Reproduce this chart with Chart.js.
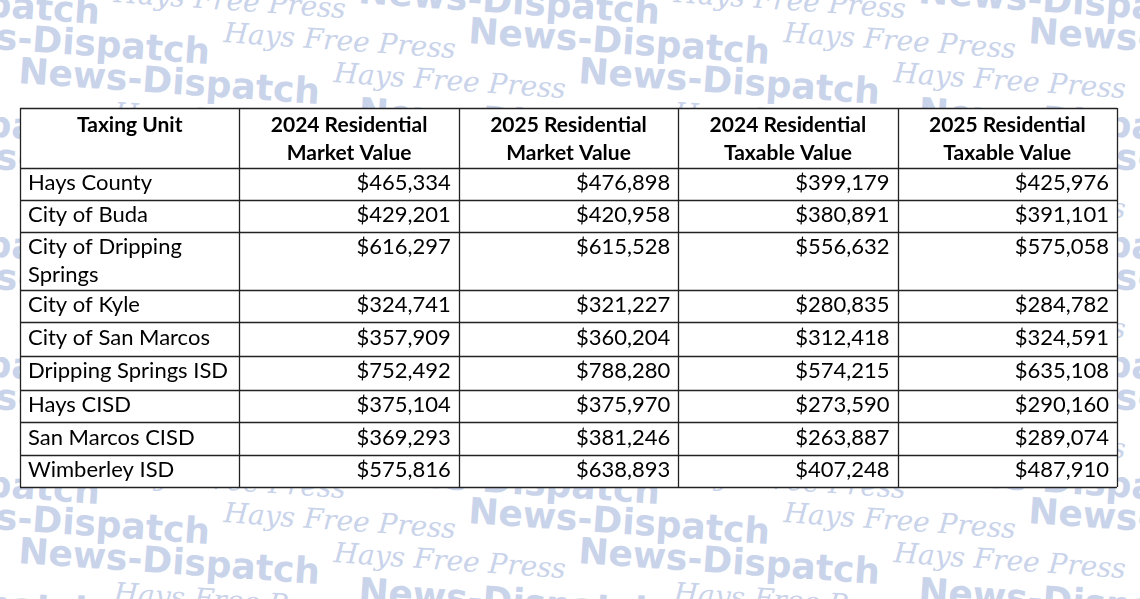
<!DOCTYPE html>
<html><head><meta charset="utf-8">
<script src="https://cdn.jsdelivr.net/npm/chart.js@4"></script>
<style>
html,body{margin:0;padding:0;width:1140px;height:599px;overflow:hidden;background:#fff;}
#wm{position:absolute;left:0;top:0;width:1140px;height:599px;overflow:hidden;color:#c9d3ea;white-space:nowrap;}
#wm div{position:absolute;transform:rotate(4deg);transform-origin:0 0;}
.nd{font-family:"DejaVu Sans";font-weight:bold;font-size:36px;}
.hf{font-family:"DejaVu Serif";font-style:italic;font-size:28px;}
canvas{position:absolute;left:0;top:0;}
</style></head><body>
<div id="wm"></div>
<canvas id="c" width="1140" height="599"></canvas>
<script>
const headers=[["Taxing Unit",""],["2024 Residential","Market Value"],["2025 Residential","Market Value"],["2024 Residential","Taxable Value"],["2025 Residential","Taxable Value"]];
const units=[["Hays County"],["City of Buda"],["City of Dripping","Springs"],["City of Kyle"],["City of San Marcos"],["Dripping Springs ISD"],["Hays CISD"],["San Marcos CISD"],["Wimberley ISD"]];
const mv2024=[465334,429201,616297,324741,357909,752492,375104,369293,575816];
const mv2025=[476898,420958,615528,321227,360204,788280,375970,381246,638893];
const tv2024=[399179,380891,556632,280835,312418,574215,273590,263887,407248];
const tv2025=[425976,391101,575058,284782,324591,635108,290160,289074,487910];

const wm=document.getElementById('wm');
let h='';
const rowsY=[-30,10,50,90,130,170,210,250,290,330,370,410,450,490,530,570];
rowsY.forEach((y,r)=>{
  const x=-200+(r%3)*110;
  for(let k=0;k<4;k++){
    h+=`<div class="nd" style="left:${x+k*560}px;top:${y}px">News-Dispatch</div>`;
    h+=`<div class="hf" style="left:${x+k*560+315}px;top:${y+6}px">Hays Free Press</div>`;
  }
});
wm.innerHTML=h;

const fmt=v=>'$'+v.toLocaleString('en-US');
const rowWeights=[1.85,1,1,1.8,1,1.05,1.05,1,1,1];
const total=rowWeights.reduce((a,b)=>a+b,0);

const tablePlugin={id:'table',afterDraw(chart){
  const ctx=chart.ctx,xs=chart.scales.x,ys=chart.scales.y;
  ctx.save();
  const x0=xs.getPixelForValue(0),x1=xs.getPixelForValue(5);
  const y0=ys.getPixelForValue(0),y1=ys.getPixelForValue(total);
  ctx.fillStyle='#fff';ctx.fillRect(x0,y0,x1-x0,y1-y0);
  ctx.strokeStyle='#222';ctx.lineWidth=1.3;
  let acc=0;const edges=[0];
  rowWeights.forEach(w=>{acc+=w;edges.push(acc);});
  edges.forEach(e=>{const y=Math.round(ys.getPixelForValue(e))+0.5;ctx.beginPath();ctx.moveTo(x0,y);ctx.lineTo(x1,y);ctx.stroke();});
  for(let c=0;c<=5;c++){const x=Math.round(xs.getPixelForValue(c))+0.5;ctx.beginPath();ctx.moveTo(x,y0);ctx.lineTo(x,y1);ctx.stroke();}
  const lh=28;
  ctx.fillStyle='#000';ctx.textBaseline='top';
  ctx.font='bold 21px Lato';ctx.textAlign='center';
  headers.forEach((hd,c)=>{
    const cx=xs.getPixelForValue(c+0.5),ty=ys.getPixelForValue(0)+7;
    hd.forEach((t,i)=>ctx.fillText(t,cx,ty+i*lh));
  });
  ctx.font='22px Lato';
  units.forEach((u,r)=>{
    const ty=ys.getPixelForValue(edges[r+1])+4;
    ctx.textAlign='left';
    u.forEach((t,i)=>ctx.fillText(t,xs.getPixelForValue(0)+8,ty+i*lh));
    ctx.textAlign='right';
    [mv2024,mv2025,tv2024,tv2025].forEach((arr,c)=>ctx.fillText(fmt(arr[r]),xs.getPixelForValue(c+2)-8,ty));
  });
  ctx.restore();
}};

new Chart(document.getElementById('c'),{
  type:'scatter',
  data:{datasets:[{data:[]}]},
  options:{responsive:false,animation:false,
    layout:{padding:{left:20,right:23,top:108,bottom:112}},
    plugins:{legend:{display:false},tooltip:{enabled:false}},
    scales:{x:{type:'linear',min:0,max:5,display:false},y:{type:'linear',min:0,max:total,reverse:true,display:false}}},
  plugins:[tablePlugin]
});
</script></body></html>
